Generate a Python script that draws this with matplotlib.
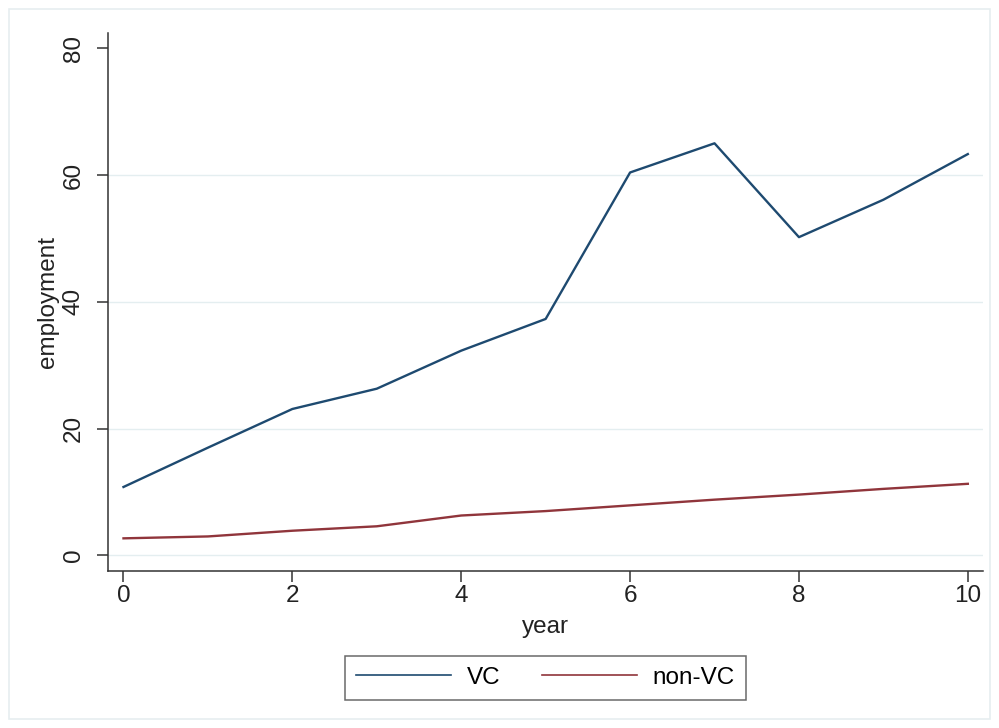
import matplotlib.pyplot as plt
from matplotlib.patches import Rectangle

plt.rcParams["font.family"] = ["Liberation Sans", "DejaVu Sans"]

years = [0, 1, 2, 3, 4, 5, 6, 7, 8, 9, 10]
vc = [10.8, 17.0, 23.1, 26.3, 32.3, 37.3, 60.4, 65.0, 50.2, 56.1, 63.3]
non_vc = [2.7, 3.0, 3.9, 4.6, 6.3, 7.0, 7.9, 8.8, 9.6, 10.5, 11.3]
yticks = [0, 20, 40, 60, 80]
xticks = [0, 2, 4, 6, 8, 10]

VC_COLOR = "#1e4a70"
NON_VC_COLOR = "#90353b"
GRID_COLOR = "#e4eef0"
AXIS_COLOR = "#333333"
FS = 17.5

fig = plt.figure(figsize=(9.99, 7.28), dpi=100)
fig.patch.set_facecolor("white")
# faint outer frame like the Stata graph region
fig.add_artist(Rectangle((0.009, 0.012), 0.982, 0.976, transform=fig.transFigure,
                         fill=False, edgecolor="#e6eef0", linewidth=1.2))

ax = fig.add_axes([0.1084, 0.2161, 0.8756, 0.7386])
ax.plot(years, vc, color=VC_COLOR, linewidth=1.7, label="VC")
ax.plot(years, non_vc, color=NON_VC_COLOR, linewidth=1.7, label="non-VC")

ax.set_xlim(-0.18, 10.18)
ax.set_ylim(-2.4, 82.4)
ax.set_xticks(xticks)
ax.set_yticks(yticks)
for y in yticks[:-1]:
    ax.axhline(y, color=GRID_COLOR, linewidth=1.0, zorder=0)

for s in ["top", "right"]:
    ax.spines[s].set_visible(False)
for s in ["left", "bottom"]:
    ax.spines[s].set_color(AXIS_COLOR)
    ax.spines[s].set_linewidth(1.1)

ax.tick_params(axis="both", length=8, width=1.1, color=AXIS_COLOR, labelsize=FS, labelcolor="#222222")
ax.tick_params(axis="x", pad=2)
ax.tick_params(axis="y", pad=9)
for lab in ax.get_yticklabels():
    lab.set_rotation(90)
    lab.set_va("center")

ax.set_xlabel("year", fontsize=FS, color="#222222", labelpad=7)
ax.set_ylabel("employment", fontsize=FS, color="#222222", labelpad=3)

leg = fig.legend(loc="center", bbox_to_anchor=(0.546, 0.069), ncol=2, fontsize=FS,
                 frameon=True, fancybox=False, handlelength=3.9, handletextpad=0.65,
                 columnspacing=1.7, borderpad=0.45, borderaxespad=0)
leg.get_frame().set_edgecolor("#444444")
leg.get_frame().set_linewidth(1.1)
for line in leg.get_lines():
    line.set_linewidth(1.2)

fig.savefig("out.png", dpi=100)
